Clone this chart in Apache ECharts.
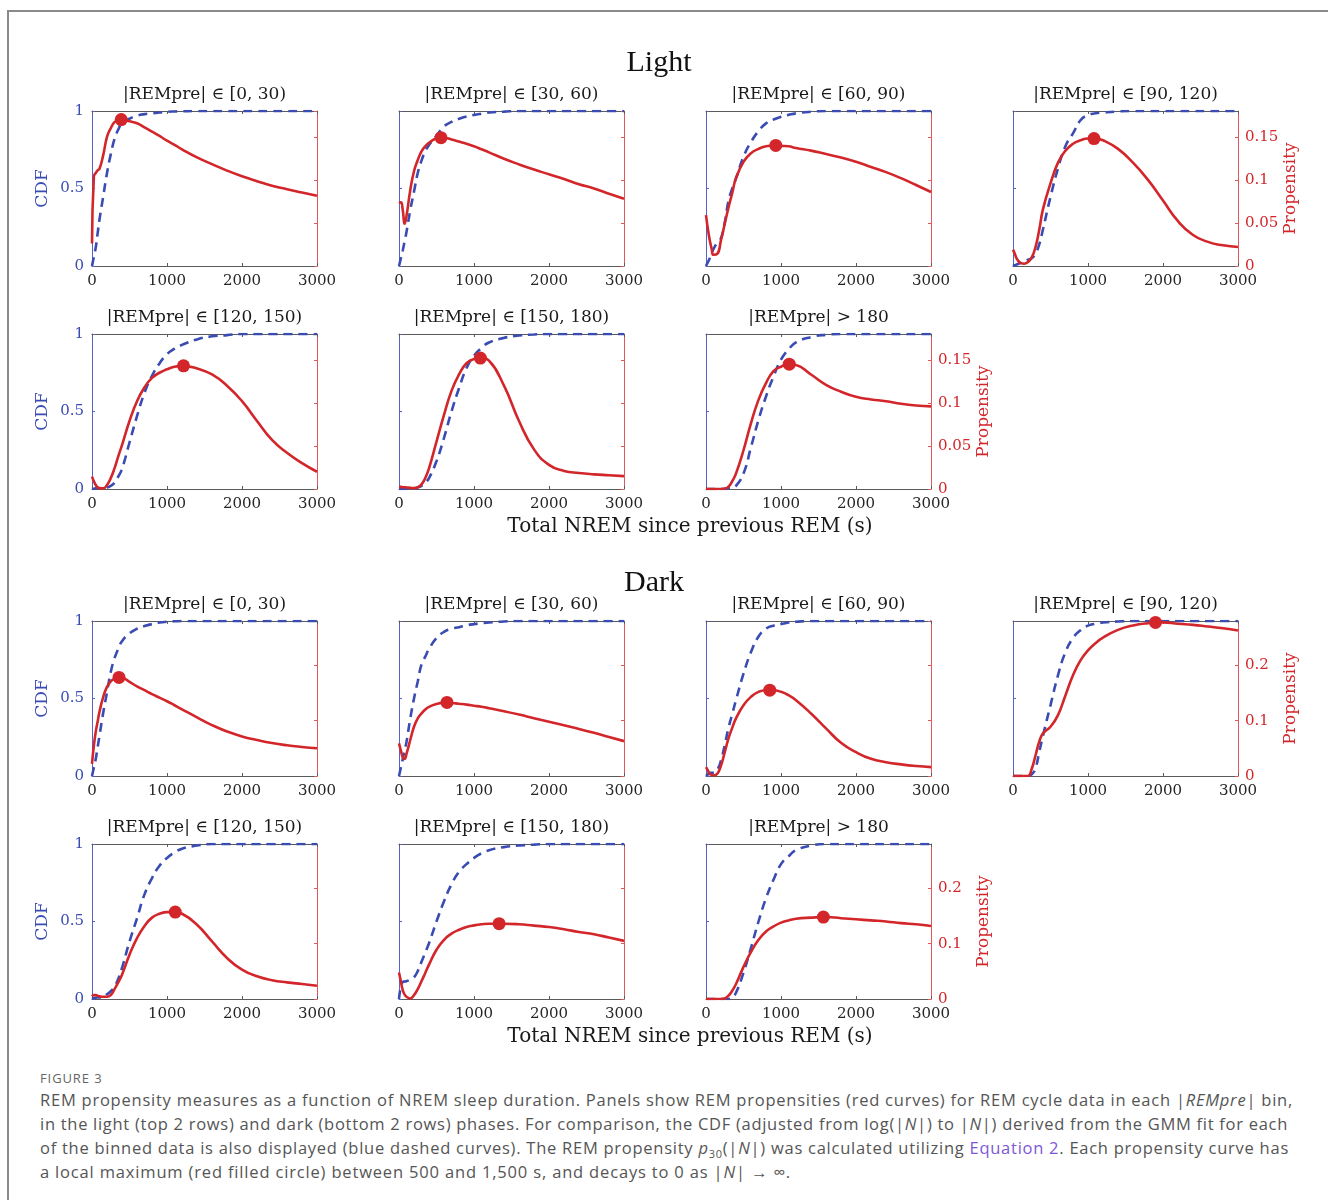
<!DOCTYPE html>
<html>
<head>
<meta charset="utf-8">
<script src="https://cdn.jsdelivr.net/npm/echarts@6/dist/echarts.min.js"></script>
<style>
  html, body { margin: 0; padding: 0; background: #fff; width: 1328px; height: 1200px; overflow: hidden; }
  #frame { position: absolute; left: 7px; top: 10px; right: -4px; bottom: -4px; border-left: 2px solid #8a8a8a; border-top: 2px solid #8a8a8a; }
  #chart { position: absolute; left: 0; top: 0; width: 1328px; height: 1060px; }
  #caption { position: absolute; left: 40px; top: 1068px; font-family: "Open Sans", sans-serif; color: #555; }
  #caption .fig { font-size: 13px; line-height: 20px; color: #666; letter-spacing: 0.9px; }
  #caption .ln { font-size: 16.5px; line-height: 24px; white-space: nowrap; }
  #caption .ln span.w { display: inline-block; }
  #caption .lk { color: #7b57d8; }
  #caption sub { font-size: 11px; line-height: 0; }
</style>
</head>
<body>
<div id="frame"></div>
<div id="chart"></div>
<div id="caption">
  <div class="fig">FIGURE 3</div>
  <div class="ln"><span class="w" data-w="1253">REM propensity measures as a function of NREM sleep duration. Panels show REM propensities (red curves) for REM cycle data in each |<i>REMpre</i>| bin,</span></div>
  <div class="ln"><span class="w" data-w="1248">in the light (top 2 rows) and dark (bottom 2 rows) phases. For comparison, the CDF (adjusted from log(|<i>N</i>|) to |<i>N</i>|) derived from the GMM fit for each</span></div>
  <div class="ln"><span class="w" data-w="1249">of the binned data is also displayed (blue dashed curves). The REM propensity <i>p</i><sub>30</sub>(|<i>N</i>|) was calculated utilizing <span class="lk">Equation 2</span>. Each propensity curve has</span></div>
  <div class="ln"><span class="w" data-w="751">a local maximum (red filled circle) between 500 and 1,500 s, and decays to 0 as |<i>N</i>| → ∞.</span></div>
</div>
<script>
// Sample grid of total NREM time since the previous REM episode (s)
const nremSec = [0, 25, 50, 75, 100, 150, 200, 250, 300, 350, 400, 500, 600, 700, 800, 900, 1000, 1100, 1200, 1400, 1600, 1800, 2000, 2200, 2400, 2600, 2800, 3000];

const binTitles = ['|REMpre| ∈ [0, 30)', '|REMpre| ∈ [30, 60)', '|REMpre| ∈ [60, 90)', '|REMpre| ∈ [90, 120)',
                   '|REMpre| ∈ [120, 150)', '|REMpre| ∈ [150, 180)', '|REMpre| > 180'];
const phaseTitles = ['Light', 'Dark'];
const xTicks = [0, 1000, 2000, 3000];
const cdfTicks = [0, 0.5, 1];
const lightPropTicks = [0, 0.05, 0.1, 0.15];
const darkPropTicks = [0, 0.1, 0.2];
const lightPropMax = 0.18;
const darkPropMax = 0.28;

// Light phase: CDF (blue dashed) and REM propensity (red)
const lightCdf1 = [0, 0.06, 0.12, 0.21, 0.3, 0.45, 0.6, 0.72, 0.82, 0.88, 0.92, 0.95, 0.97, 0.98, 0.985, 0.99, 0.995, 0.997, 0.998, 1, 1, 1, 1, 1, 1, 1, 1, 1];
const lightProp1 = [0.026, 0.104, 0.108, 0.111, 0.113, 0.129, 0.150, 0.160, 0.167, 0.169, 0.170, 0.168, 0.1657, 0.161, 0.156, 0.151, 0.1455, 0.1408, 0.1355, 0.1262, 0.1183, 0.1108, 0.1042, 0.0985, 0.0932, 0.0891, 0.0853, 0.0815];
const lightCdf2 = [0, 0.05, 0.1, 0.16, 0.22, 0.36, 0.48, 0.6, 0.68, 0.74, 0.78, 0.84, 0.9, 0.93, 0.95, 0.965, 0.975, 0.983, 0.99, 0.996, 1, 1, 1, 1, 1, 1, 1, 1];
const lightProp2 = [0.073, 0.074, 0.065, 0.049, 0.058, 0.088, 0.110, 0.123, 0.133, 0.139, 0.143, 0.148, 0.149, 0.147, 0.1445, 0.142, 0.139, 0.1355, 0.132, 0.1245, 0.118, 0.112, 0.1065, 0.101, 0.095, 0.090, 0.084, 0.078];
const lightCdf3 = [0, 0.025, 0.05, 0.08, 0.11, 0.15, 0.18, 0.28, 0.42, 0.5, 0.565, 0.705, 0.8, 0.87, 0.92, 0.945, 0.963, 0.975, 0.985, 0.995, 1, 1, 1, 1, 1, 1, 1, 1];
const lightProp3 = [0.059, 0.043, 0.030, 0.020, 0.013, 0.014, 0.030, 0.049, 0.068, 0.085, 0.102, 0.121, 0.131, 0.136, 0.139, 0.140, 0.1395, 0.139, 0.137, 0.134, 0.130, 0.126, 0.121, 0.115, 0.109, 0.102, 0.094, 0.086];
const lightCdf4 = [0, 0.005, 0.01, 0.015, 0.02, 0.03, 0.04, 0.05, 0.08, 0.14, 0.237, 0.446, 0.63, 0.774, 0.856, 0.94, 0.974, 0.985, 0.99, 0.997, 1, 1, 1, 1, 1, 1, 1, 1];
const lightProp4 = [0.019, 0.014, 0.0085, 0.0054, 0.0035, 0.0027, 0.0047, 0.010, 0.022, 0.042, 0.066, 0.096, 0.120, 0.134, 0.142, 0.146, 0.148, 0.148, 0.146, 0.136, 0.120, 0.100, 0.076, 0.052, 0.036, 0.028, 0.024, 0.022];
const lightCdf5 = [0, 0.002, 0.004, 0.005, 0.006, 0.008, 0.01, 0.02, 0.04, 0.08, 0.13, 0.3, 0.47, 0.62, 0.73, 0.81, 0.87, 0.905, 0.93, 0.965, 0.985, 0.993, 1, 1, 1, 1, 1, 1];
const lightProp5 = [0.0144, 0.009, 0.0047, 0.002, 0.0007, 0.0007, 0.0047, 0.0126, 0.024, 0.038, 0.051, 0.079, 0.102, 0.118, 0.129, 0.135, 0.139, 0.142, 0.143, 0.140, 0.133, 0.120, 0.102, 0.079, 0.057, 0.042, 0.030, 0.020];
const lightCdf6 = [0, 0, 0, 0.001, 0.001, 0.002, 0.003, 0.01, 0.02, 0.04, 0.07, 0.18, 0.33, 0.5, 0.65, 0.78, 0.86, 0.91, 0.945, 0.975, 0.99, 0.997, 1, 1, 1, 1, 1, 1];
const lightProp6 = [0.0027, 0.0025, 0.002, 0.002, 0.0018, 0.0014, 0.001, 0.002, 0.0054, 0.0126, 0.024, 0.055, 0.086, 0.114, 0.133, 0.146, 0.151, 0.152, 0.149, 0.120, 0.079, 0.046, 0.028, 0.021, 0.0185, 0.017, 0.016, 0.015];
const lightCdf7 = [0, 0, 0, 0, 0, 0, 0, 0, 0.005, 0.01, 0.02, 0.10, 0.27, 0.446, 0.597, 0.726, 0.834, 0.90, 0.946, 0.98, 0.995, 1, 1, 1, 1, 1, 1, 1];
const lightProp7 = [0, 0, 0, 0, 0, 0, 0, 0.0005, 0.0027, 0.009, 0.018, 0.045, 0.0765, 0.1035, 0.123, 0.137, 0.142, 0.145, 0.144, 0.133, 0.121, 0.113, 0.107, 0.104, 0.102, 0.099, 0.097, 0.096];
const lightPeaks = [[390, 0.170], [560, 0.149], [930, 0.140], [1080, 0.148], [1220, 0.143], [1085, 0.152], [1110, 0.145]];

// Dark phase: CDF (blue dashed) and REM propensity (red)
const darkCdf1 = [0, 0.055, 0.11, 0.185, 0.26, 0.41, 0.54, 0.67, 0.76, 0.82, 0.87, 0.92, 0.95, 0.967, 0.98, 0.99, 0.995, 0.998, 1, 1, 1, 1, 1, 1, 1, 1, 1, 1];
const darkProp1 = [0.022, 0.055, 0.080, 0.098, 0.116, 0.143, 0.161, 0.171, 0.176, 0.178, 0.1775, 0.170, 0.162, 0.155, 0.148, 0.1415, 0.135, 0.1278, 0.1205, 0.106, 0.092, 0.0805, 0.0715, 0.065, 0.0595, 0.0555, 0.0525, 0.050];
const darkCdf2 = [0, 0.055, 0.11, 0.165, 0.22, 0.37, 0.5, 0.61, 0.72, 0.77, 0.82, 0.89, 0.93, 0.95, 0.96, 0.972, 0.98, 0.986, 0.99, 0.997, 1, 1, 1, 1, 1, 1, 1, 1];
const darkProp2 = [0.059, 0.046, 0.034, 0.031, 0.040, 0.065, 0.089, 0.104, 0.113, 0.120, 0.125, 0.130, 0.1325, 0.132, 0.1305, 0.129, 0.127, 0.125, 0.1225, 0.117, 0.111, 0.1045, 0.098, 0.0915, 0.085, 0.078, 0.0705, 0.063];
const darkCdf3 = [0, 0.01, 0.02, 0.02, 0.02, 0.04, 0.10, 0.2, 0.31, 0.4, 0.49, 0.66, 0.80, 0.90, 0.95, 0.97, 0.98, 0.99, 0.995, 1, 1, 1, 1, 1, 1, 1, 1, 1];
const darkProp3 = [0.016, 0.010, 0.004, 0.002, 0.001, 0.004, 0.019, 0.043, 0.068, 0.087, 0.104, 0.128, 0.143, 0.152, 0.155, 0.155, 0.152, 0.146, 0.137, 0.113, 0.086, 0.060, 0.043, 0.031, 0.025, 0.021, 0.018, 0.016];
const darkCdf4 = [0, 0, 0, 0, 0, 0, 0, 0.01, 0.05, 0.155, 0.26, 0.457, 0.65, 0.80, 0.89, 0.94, 0.97, 0.982, 0.99, 0.997, 1, 1, 1, 1, 1, 1, 1, 1];
const darkProp4 = [0, 0, 0, 0, 0, 0, 0, 0.013, 0.037, 0.062, 0.077, 0.089, 0.110, 0.146, 0.182, 0.209, 0.227, 0.240, 0.250, 0.264, 0.272, 0.276, 0.2775, 0.275, 0.273, 0.270, 0.267, 0.263];
const darkCdf5 = [0, 0.005, 0.008, 0.01, 0.01, 0.015, 0.03, 0.05, 0.08, 0.13, 0.2, 0.37, 0.52, 0.675, 0.78, 0.86, 0.91, 0.945, 0.97, 0.99, 1, 1, 1, 1, 1, 1, 1, 1];
const darkProp5 = [0.005, 0.007, 0.007, 0.006, 0.005, 0.004, 0.004, 0.007, 0.018, 0.030, 0.044, 0.080, 0.110, 0.132, 0.147, 0.154, 0.157, 0.157, 0.154, 0.134, 0.104, 0.074, 0.053, 0.041, 0.034, 0.030, 0.027, 0.024];
const darkCdf6 = [0, 0.08, 0.11, 0.113, 0.115, 0.125, 0.14, 0.18, 0.24, 0.3, 0.36, 0.5, 0.63, 0.74, 0.82, 0.87, 0.91, 0.94, 0.96, 0.98, 0.99, 0.996, 1, 1, 1, 1, 1, 1];
const darkProp6 = [0.048, 0.032, 0.016, 0.008, 0.004, 0.001, 0.007, 0.018, 0.032, 0.047, 0.062, 0.089, 0.107, 0.118, 0.125, 0.130, 0.133, 0.135, 0.136, 0.136, 0.135, 0.1325, 0.130, 0.126, 0.121, 0.117, 0.111, 0.105];
const darkCdf7 = [0, 0, 0, 0, 0, 0, 0, 0, 0, 0.01, 0.04, 0.17, 0.33, 0.5, 0.65, 0.77, 0.87, 0.92, 0.96, 0.99, 1, 1, 1, 1, 1, 1, 1, 1];
const darkProp7 = [0, 0, 0, 0, 0, 0, 0, 0.001, 0.006, 0.015, 0.027, 0.058, 0.085, 0.107, 0.122, 0.131, 0.138, 0.142, 0.145, 0.147, 0.148, 0.146, 0.144, 0.142, 0.140, 0.137, 0.135, 0.132];
const darkPeaks = [[360, 0.178], [640, 0.133], [850, 0.155], [1900, 0.2775], [1110, 0.157], [1335, 0.136], [1565, 0.148]];

const lightCdfs = [lightCdf1, lightCdf2, lightCdf3, lightCdf4, lightCdf5, lightCdf6, lightCdf7];
const lightProps = [lightProp1, lightProp2, lightProp3, lightProp4, lightProp5, lightProp6, lightProp7];
const darkCdfs = [darkCdf1, darkCdf2, darkCdf3, darkCdf4, darkCdf5, darkCdf6, darkCdf7];
const darkProps = [darkProp1, darkProp2, darkProp3, darkProp4, darkProp5, darkProp6, darkProp7];

// Layout of the 4-column grid of panels
const colLeft = [92, 399, 706, 1013];
const rowTop = [111, 334, 621, 844];
const panelW = 225, panelH = 155;

const BLUE = '#3a4cb2';
const BLUE_AXIS = '#5563c9';
const RED = '#d3262b';
const RED_AXIS = '#e2575a';
const FRAME = '#5a5a5a';
const SERIF = '"DejaVu Serif", serif';
const plainNumber = v => String(Math.round(v * 1e6) / 1e6);

const grids = [], xAxes = [], yAxes = [], series = [], graphics = [];

function addPanel(phase, k, cdf, prop, peak) {
  const i = grids.length;
  const row = phase * 2 + (k < 4 ? 0 : 1);
  const col = k < 4 ? k : k - 4;
  const left = colLeft[col], top = rowTop[row];
  const pMax = phase === 0 ? lightPropMax : darkPropMax;
  const pTicks = phase === 0 ? lightPropTicks : darkPropTicks;
  const showLeft = col === 0;
  const showRight = k === 3 || k === 6;

  grids.push({ left: left, top: top, width: panelW, height: panelH, containLabel: false });

  const tickStyle = { inside: true, length: 3 };
  xAxes.push({
    gridIndex: i, type: 'value', position: 'bottom', min: xTicks[0], max: xTicks[xTicks.length - 1],
    interval: xTicks[1] - xTicks[0],
    axisLine: { show: true, onZero: false, lineStyle: { color: FRAME, width: 1 } },
    axisTick: Object.assign({ lineStyle: { color: FRAME } }, tickStyle),
    axisLabel: { color: '#262626', fontSize: 15, fontFamily: SERIF, margin: 8, formatter: plainNumber },
    splitLine: { show: false }
  });
  xAxes.push({
    gridIndex: i, type: 'value', position: 'top', min: xTicks[0], max: xTicks[xTicks.length - 1],
    interval: xTicks[1] - xTicks[0],
    axisLine: { show: true, onZero: false, lineStyle: { color: FRAME, width: 1 } },
    axisTick: Object.assign({ lineStyle: { color: FRAME } }, tickStyle),
    axisLabel: { show: false },
    splitLine: { show: false }
  });
  yAxes.push({
    gridIndex: i, type: 'value', position: 'left', min: cdfTicks[0], max: cdfTicks[cdfTicks.length - 1],
    interval: cdfTicks[1] - cdfTicks[0],
    axisLine: { show: true, onZero: false, lineStyle: { color: BLUE_AXIS, width: 1 } },
    axisTick: Object.assign({ lineStyle: { color: BLUE_AXIS } }, tickStyle),
    axisLabel: { show: showLeft, color: BLUE, fontSize: 15, fontFamily: SERIF, margin: 8, formatter: plainNumber },
    splitLine: { show: false },
    name: showLeft ? 'CDF' : '', nameLocation: 'middle', nameRotate: 90, nameGap: 41,
    nameTextStyle: { color: BLUE, fontSize: 17, fontFamily: SERIF }
  });
  yAxes.push({
    gridIndex: i, type: 'value', position: 'right', min: pTicks[0], max: pMax,
    interval: pTicks[1] - pTicks[0],
    axisLine: { show: true, onZero: false, lineStyle: { color: RED_AXIS, width: 1 } },
    axisTick: Object.assign({ lineStyle: { color: RED_AXIS } }, tickStyle),
    axisLabel: { show: showRight, showMaxLabel: false, color: RED, fontSize: 15, fontFamily: SERIF, margin: 7, formatter: plainNumber },
    splitLine: { show: false },
    name: showRight ? 'Propensity' : '', nameLocation: 'middle', nameRotate: 90, nameGap: 44,
    nameTextStyle: { color: RED, fontSize: 17, fontFamily: SERIF }
  });

  series.push({
    type: 'line', xAxisIndex: 2 * i, yAxisIndex: 2 * i, z: 2,
    data: nremSec.map((s, j) => [s, cdf[j]]),
    showSymbol: false, smooth: 0.5, clip: true,
    lineStyle: { color: BLUE, width: 2.6, type: [9, 6] }
  });
  series.push({
    type: 'line', xAxisIndex: 2 * i, yAxisIndex: 2 * i + 1, z: 3,
    data: nremSec.map((s, j) => [s, prop[j]]),
    showSymbol: false, smooth: 0.5, clip: true,
    lineStyle: { color: RED, width: 2.6 }
  });
  series.push({
    type: 'scatter', xAxisIndex: 2 * i, yAxisIndex: 2 * i + 1, z: 4,
    data: [peak], symbolSize: 13, clip: false,
    itemStyle: { color: RED, opacity: 1 }
  });

  graphics.push({
    type: 'text', x: left + panelW / 2, y: top - 16,
    style: { text: binTitles[k], fill: '#1a1a1a', font: '17px ' + SERIF,
             align: 'center', verticalAlign: 'middle', textAlign: 'center', textVerticalAlign: 'middle' }
  });
}

lightCdfs.forEach((c, k) => addPanel(0, k, c, lightProps[k], lightPeaks[k]));
darkCdfs.forEach((c, k) => addPanel(1, k, c, darkProps[k], darkPeaks[k]));

// Phase headings and shared x-axis labels
const headingPos = [[659, 63], [654, 583]];
phaseTitles.forEach((t, p) => {
  graphics.push({
    type: 'text', x: headingPos[p][0], y: headingPos[p][1],
    style: { text: t, fill: '#111', font: '30px "Liberation Serif", serif',
             align: 'center', verticalAlign: 'middle', textAlign: 'center', textVerticalAlign: 'middle' }
  });
});
[527, 1037].forEach(y => {
  graphics.push({
    type: 'text', x: 690, y: y,
    style: { text: 'Total NREM since previous REM (s)', fill: '#1a1a1a', font: '20px ' + SERIF,
             align: 'center', verticalAlign: 'middle', textAlign: 'center', textVerticalAlign: 'middle' }
  });
});

const chart = echarts.init(document.getElementById('chart'), null, { renderer: 'canvas' });
chart.setOption({
  animation: false,
  backgroundColor: 'transparent',
  grid: grids,
  xAxis: xAxes,
  yAxis: yAxes,
  series: series,
  graphic: graphics
});

// Track the caption letters out so each wrapped line fills its measure
document.querySelectorAll('#caption span.w[data-w]').forEach(el => {
  const target = +el.dataset.w;
  const chars = el.textContent.length;
  const natural = el.getBoundingClientRect().width;
  if (chars > 1) el.style.letterSpacing = ((target - natural) / chars) + 'px';
});
</script>
</body>
</html>
